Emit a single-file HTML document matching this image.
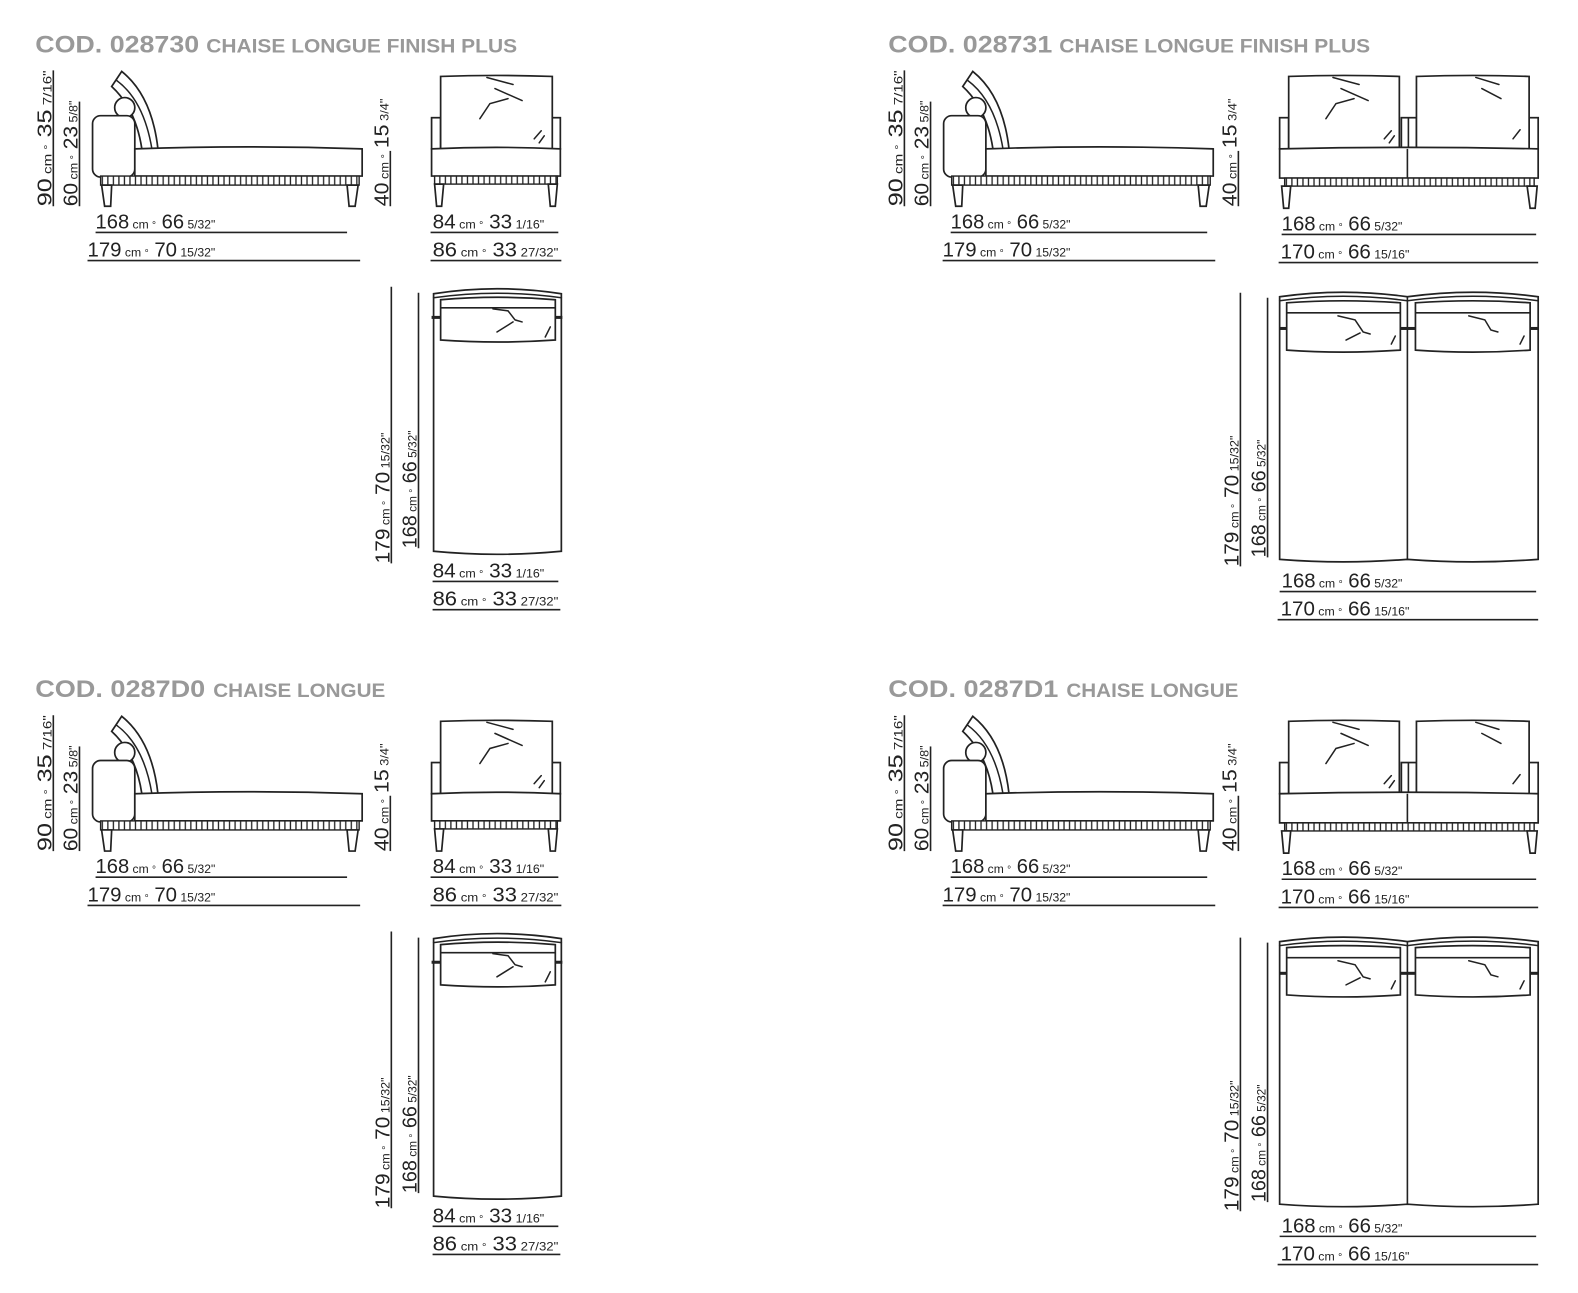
<!DOCTYPE html>
<html><head><meta charset="utf-8"><style>
html,body{margin:0;padding:0;background:#fff;}
svg{display:block;}
.t1{font-family:"Liberation Sans",sans-serif;font-weight:bold;font-size:24px;fill:#999;}
.t2{font-family:"Liberation Sans",sans-serif;font-weight:bold;font-size:19px;fill:#999;}
.d{font-family:"Liberation Sans",sans-serif;fill:#222;}
.b{font-size:20px;}
.s{font-size:12px;}
.o{font-size:10px;}
.ln{stroke:#222;stroke-width:1.6;fill:none;}
.sh{stroke:#222;stroke-width:1.7;fill:#fff;}
.sk{stroke:#222;stroke-width:1.5;fill:none;stroke-linecap:round;}
</style></head><body>
<svg width="1578" height="1293" viewBox="0 0 1578 1293" xmlns="http://www.w3.org/2000/svg">
<defs>
<pattern id="sl" width="5.5" height="9" patternUnits="userSpaceOnUse"><rect width="5.5" height="9" fill="#fff"/><line x1="2.7" y1="0" x2="2.7" y2="9" stroke="#222" stroke-width="1.3"/></pattern>
</defs>
<g transform="scale(1.006)">

<g id="q1">
<text class="t1" x="35" y="52" textLength="163" lengthAdjust="spacingAndGlyphs">COD. 028730</text>
<text class="t2" x="205" y="52" textLength="309" lengthAdjust="spacingAndGlyphs">CHAISE LONGUE FINISH PLUS</text>
</g>
<g id="sideL">
<line class="ln" x1="53" y1="70" x2="53" y2="205"/>
<line class="ln" x1="79" y1="101" x2="79" y2="205"/>
<text class="d" transform="translate(51,205) rotate(-90)" textLength="135" lengthAdjust="spacingAndGlyphs"><tspan class="b">90</tspan><tspan class="s"> cm </tspan><tspan class="o">°</tspan><tspan class="b"> 35</tspan><tspan class="s"> 7/16"</tspan></text>
<text class="d" transform="translate(77,205) rotate(-90)" textLength="105" lengthAdjust="spacingAndGlyphs"><tspan class="b">60</tspan><tspan class="s"> cm </tspan><tspan class="o">°</tspan><tspan class="b"> 23</tspan><tspan class="s"> 5/8"</tspan></text>
<path class="sh" d="M111,86 L121,71 Q151,95 157,148 L141,148 Q135,108 111,86 Z"/>
<path class="sk" d="M116,80 Q143,100 151,148"/>
<circle class="sh" cx="124" cy="107" r="10"/>
<rect class="sh" x="92" y="115" width="42" height="61" rx="8"/>
<path class="sh" d="M134,148 Q247,144 360,148 L360,175 L134,175 Z"/>
<rect x="100" y="175" width="257" height="9" fill="url(#sl)" stroke="#222" stroke-width="1.4"/>
<path class="sh" d="M101,184 L104,205 L110,205 L111,184 Z"/>
<path class="sh" d="M345,184 L347,205 L353,205 L356,184 Z"/>
<line class="ln" x1="95" y1="231" x2="345" y2="231"/>
<line class="ln" x1="87" y1="259" x2="358" y2="259"/>
<text class="d" x="95" y="227" textLength="119" lengthAdjust="spacingAndGlyphs"><tspan class="b">168</tspan><tspan class="s"> cm </tspan><tspan class="o">°</tspan><tspan class="b"> 66</tspan><tspan class="s"> 5/32"</tspan></text>
<text class="d" x="87" y="255" textLength="127" lengthAdjust="spacingAndGlyphs"><tspan class="b">179</tspan><tspan class="s"> cm </tspan><tspan class="o">°</tspan><tspan class="b"> 70</tspan><tspan class="s"> 15/32"</tspan></text>
<line class="ln" x1="388" y1="150" x2="388" y2="205"/>
<text class="d" transform="translate(386,205) rotate(-90)" textLength="107" lengthAdjust="spacingAndGlyphs"><tspan class="b">40</tspan><tspan class="s"> cm </tspan><tspan class="o">°</tspan><tspan class="b"> 15</tspan><tspan class="s"> 3/4"</tspan></text>
<rect class="sh" x="429" y="117" width="9" height="31"/>
<rect class="sh" x="548" y="117" width="9" height="31"/>
<path class="sh" d="M438,76 Q493,74 549,76 L549,148 L438,148 Z"/>
<path class="sk" d="M484,77 L510,84 M492,88 L519,100 M505,98 L487,103 L477,118 M538,130 L531,138 M541,135 L536,142"/>
<path class="sh" d="M429,148 Q493,145 557,148 L557,175 L429,175 Z"/>
<rect x="432" y="175" width="122" height="8" fill="url(#sl)" stroke="#222" stroke-width="1.4"/>
<path class="sh" d="M432,183 L434,205 L439,205 L441,183 Z"/>
<path class="sh" d="M545,183 L547,205 L552,205 L554,183 Z"/>
<line class="ln" x1="428" y1="231" x2="555" y2="231"/>
<line class="ln" x1="428" y1="259" x2="558" y2="259"/>
<text class="d" x="430" y="227" textLength="111" lengthAdjust="spacingAndGlyphs"><tspan class="b">84</tspan><tspan class="s"> cm </tspan><tspan class="o">°</tspan><tspan class="b"> 33</tspan><tspan class="s"> 1/16"</tspan></text>
<text class="d" x="430" y="255" textLength="125" lengthAdjust="spacingAndGlyphs"><tspan class="b">86</tspan><tspan class="s"> cm </tspan><tspan class="o">°</tspan><tspan class="b"> 33</tspan><tspan class="s"> 27/32"</tspan></text>
<line class="ln" x1="389" y1="285" x2="389" y2="560"/>
<line class="ln" x1="416" y1="291" x2="416" y2="545"/>
<text class="d" transform="translate(387,560) rotate(-90)" textLength="130" lengthAdjust="spacingAndGlyphs"><tspan class="b">179</tspan><tspan class="s"> cm </tspan><tspan class="o">°</tspan><tspan class="b"> 70</tspan><tspan class="s"> 15/32"</tspan></text>
<text class="d" transform="translate(414,545) rotate(-90)" textLength="117" lengthAdjust="spacingAndGlyphs"><tspan class="b">168</tspan><tspan class="s"> cm </tspan><tspan class="o">°</tspan><tspan class="b"> 66</tspan><tspan class="s"> 5/32"</tspan></text>
<path class="sh" d="M431,292 Q494,282 558,292 L558,548 Q494,554 431,548 Z"/>
<path class="sk" d="M431,296 Q494,287 558,296"/>
<path class="sh" d="M438,298 Q495,293 552,298 L552,338 Q495,342 438,338 Z"/>
<line class="ln" x1="438" y1="306" x2="552" y2="306"/>
<rect x="429" y="314" width="9" height="3" fill="#222"/>
<rect x="552" y="314" width="7" height="3" fill="#222"/>
<path class="sk" d="M490,307 L505,309 L512,318 L519,320 M510,320 L494,330 M547,325 L542,335"/>
<line class="ln" x1="430" y1="578" x2="555" y2="578"/>
<line class="ln" x1="430" y1="606" x2="557" y2="606"/>
<text class="d" x="430" y="574" textLength="111" lengthAdjust="spacingAndGlyphs"><tspan class="b">84</tspan><tspan class="s"> cm </tspan><tspan class="o">°</tspan><tspan class="b"> 33</tspan><tspan class="s"> 1/16"</tspan></text>
<text class="d" x="430" y="602" textLength="125" lengthAdjust="spacingAndGlyphs"><tspan class="b">86</tspan><tspan class="s"> cm </tspan><tspan class="o">°</tspan><tspan class="b"> 33</tspan><tspan class="s"> 27/32"</tspan></text>
</g>

<text class="t1" x="883" y="52" textLength="163" lengthAdjust="spacingAndGlyphs">COD. 028731</text>
<text class="t2" x="1053" y="52" textLength="309" lengthAdjust="spacingAndGlyphs">CHAISE LONGUE FINISH PLUS</text>
<g id="sideR">
<g transform="translate(846,0)">
<line class="ln" x1="53" y1="70" x2="53" y2="205"/>
<line class="ln" x1="79" y1="101" x2="79" y2="205"/>
<text class="d" transform="translate(51,205) rotate(-90)" textLength="135" lengthAdjust="spacingAndGlyphs"><tspan class="b">90</tspan><tspan class="s"> cm </tspan><tspan class="o">°</tspan><tspan class="b"> 35</tspan><tspan class="s"> 7/16"</tspan></text>
<text class="d" transform="translate(77,205) rotate(-90)" textLength="105" lengthAdjust="spacingAndGlyphs"><tspan class="b">60</tspan><tspan class="s"> cm </tspan><tspan class="o">°</tspan><tspan class="b"> 23</tspan><tspan class="s"> 5/8"</tspan></text>
<path class="sh" d="M111,86 L121,71 Q151,95 157,148 L141,148 Q135,108 111,86 Z"/>
<path class="sk" d="M116,80 Q143,100 151,148"/>
<circle class="sh" cx="124" cy="107" r="10"/>
<rect class="sh" x="92" y="115" width="42" height="61" rx="8"/>
<path class="sh" d="M134,148 Q247,144 360,148 L360,175 L134,175 Z"/>
<rect x="100" y="175" width="257" height="9" fill="url(#sl)" stroke="#222" stroke-width="1.4"/>
<path class="sh" d="M101,184 L104,205 L110,205 L111,184 Z"/>
<path class="sh" d="M345,184 L347,205 L353,205 L356,184 Z"/>
<line class="ln" x1="99" y1="231" x2="354" y2="231"/>
<line class="ln" x1="91" y1="259" x2="362" y2="259"/>
<text class="d" x="99" y="227" textLength="119" lengthAdjust="spacingAndGlyphs"><tspan class="b">168</tspan><tspan class="s"> cm </tspan><tspan class="o">°</tspan><tspan class="b"> 66</tspan><tspan class="s"> 5/32"</tspan></text>
<text class="d" x="91" y="255" textLength="127" lengthAdjust="spacingAndGlyphs"><tspan class="b">179</tspan><tspan class="s"> cm </tspan><tspan class="o">°</tspan><tspan class="b"> 70</tspan><tspan class="s"> 15/32"</tspan></text>
</g>
<line class="ln" x1="1231" y1="150" x2="1231" y2="205"/>
<text class="d" transform="translate(1229,205) rotate(-90)" textLength="107" lengthAdjust="spacingAndGlyphs"><tspan class="b">40</tspan><tspan class="s"> cm </tspan><tspan class="o">°</tspan><tspan class="b"> 15</tspan><tspan class="s"> 3/4"</tspan></text>
<rect class="sh" x="1272" y="117" width="9" height="31"/>
<rect class="sh" x="1520" y="117" width="9" height="31"/>
<rect class="sh" x="1393" y="117" width="15" height="31"/>
<line class="ln" x1="1400" y1="117" x2="1400" y2="148"/>
<path class="sh" d="M1281,76 Q1336,74 1391,76 L1391,148 L1281,148 Z"/>
<path class="sh" d="M1408,76 Q1464,74 1520,76 L1520,148 L1408,148 Z"/>
<path class="sk" d="M1325,77 L1351,84 M1333,88 L1360,100 M1346,98 L1328,103 L1318,118 M1383,130 L1376,138 M1386,135 L1381,142"/>
<path class="sk" d="M1467,77 L1490,84 M1473,88 L1492,98 M1511,129 L1504,138"/>
<path class="sh" d="M1272,148 Q1400,145 1529,148 L1529,177 L1272,177 Z"/>
<line class="ln" x1="1399" y1="148" x2="1399" y2="177"/>
<rect x="1277" y="177" width="248" height="8" fill="url(#sl)" stroke="#222" stroke-width="1.4"/>
<path class="sh" d="M1274,185 L1276,207 L1281,207 L1283,185 Z"/>
<path class="sh" d="M1518,185 L1521,207 L1526,207 L1528,185 Z"/>
<line class="ln" x1="1274" y1="233" x2="1527" y2="233"/>
<line class="ln" x1="1271" y1="261" x2="1529" y2="261"/>
<text class="d" x="1274" y="229" textLength="120" lengthAdjust="spacingAndGlyphs"><tspan class="b">168</tspan><tspan class="s"> cm </tspan><tspan class="o">°</tspan><tspan class="b"> 66</tspan><tspan class="s"> 5/32"</tspan></text>
<text class="d" x="1273" y="257" textLength="128" lengthAdjust="spacingAndGlyphs"><tspan class="b">170</tspan><tspan class="s"> cm </tspan><tspan class="o">°</tspan><tspan class="b"> 66</tspan><tspan class="s"> 15/16"</tspan></text>
<line class="ln" x1="1233" y1="291" x2="1233" y2="563"/>
<line class="ln" x1="1260" y1="296" x2="1260" y2="554"/>
<text class="d" transform="translate(1231,563) rotate(-90)" textLength="130" lengthAdjust="spacingAndGlyphs"><tspan class="b">179</tspan><tspan class="s"> cm </tspan><tspan class="o">°</tspan><tspan class="b"> 70</tspan><tspan class="s"> 15/32"</tspan></text>
<text class="d" transform="translate(1258,554) rotate(-90)" textLength="117" lengthAdjust="spacingAndGlyphs"><tspan class="b">168</tspan><tspan class="s"> cm </tspan><tspan class="o">°</tspan><tspan class="b"> 66</tspan><tspan class="s"> 5/32"</tspan></text>
<path class="sh" d="M1272,295 Q1335,286 1399,295 Q1464,286 1529,295 L1529,556 Q1464,561 1399,556 Q1335,561 1272,556 Z"/>
<path class="sk" d="M1272,299 Q1335,290 1399,299 Q1464,290 1529,299"/>
<line class="ln" x1="1399" y1="295" x2="1399" y2="556"/>
<path class="sh" d="M1279,301 Q1335,297 1392,301 L1392,348 Q1335,352 1279,348 Z"/>
<path class="sh" d="M1407,301 Q1464,297 1521,301 L1521,348 Q1464,352 1407,348 Z"/>
<line class="ln" x1="1279" y1="311" x2="1392" y2="311"/>
<line class="ln" x1="1407" y1="311" x2="1521" y2="311"/>
<rect x="1272" y="325" width="7" height="3" fill="#222"/>
<rect x="1392" y="325" width="15" height="3" fill="#222"/>
<rect x="1521" y="325" width="8" height="3" fill="#222"/>
<path class="sk" d="M1330,314 L1347,318 L1355,330 L1362,332 M1352,331 L1338,338 M1387,334 L1383,342"/>
<path class="sk" d="M1460,314 L1476,318 L1482,328 L1489,330 M1515,334 L1511,342"/>
<line class="ln" x1="1272" y1="588" x2="1527" y2="588"/>
<line class="ln" x1="1270" y1="616" x2="1529" y2="616"/>
<text class="d" x="1274" y="584" textLength="120" lengthAdjust="spacingAndGlyphs"><tspan class="b">168</tspan><tspan class="s"> cm </tspan><tspan class="o">°</tspan><tspan class="b"> 66</tspan><tspan class="s"> 5/32"</tspan></text>
<text class="d" x="1273" y="612" textLength="128" lengthAdjust="spacingAndGlyphs"><tspan class="b">170</tspan><tspan class="s"> cm </tspan><tspan class="o">°</tspan><tspan class="b"> 66</tspan><tspan class="s"> 15/16"</tspan></text>
</g>

<text class="t1" x="35" y="693" textLength="169" lengthAdjust="spacingAndGlyphs">COD. 0287D0</text>
<text class="t2" x="212" y="693" textLength="171" lengthAdjust="spacingAndGlyphs">CHAISE LONGUE</text>
<text class="t1" x="883" y="693" textLength="169" lengthAdjust="spacingAndGlyphs">COD. 0287D1</text>
<text class="t2" x="1060" y="693" textLength="171" lengthAdjust="spacingAndGlyphs">CHAISE LONGUE</text>

<g transform="translate(0,641)">
<line class="ln" x1="53" y1="70" x2="53" y2="205"/>
<line class="ln" x1="79" y1="101" x2="79" y2="205"/>
<text class="d" transform="translate(51,205) rotate(-90)" textLength="135" lengthAdjust="spacingAndGlyphs"><tspan class="b">90</tspan><tspan class="s"> cm </tspan><tspan class="o">°</tspan><tspan class="b"> 35</tspan><tspan class="s"> 7/16"</tspan></text>
<text class="d" transform="translate(77,205) rotate(-90)" textLength="105" lengthAdjust="spacingAndGlyphs"><tspan class="b">60</tspan><tspan class="s"> cm </tspan><tspan class="o">°</tspan><tspan class="b"> 23</tspan><tspan class="s"> 5/8"</tspan></text>
<path class="sh" d="M111,86 L121,71 Q151,95 157,148 L141,148 Q135,108 111,86 Z"/>
<path class="sk" d="M116,80 Q143,100 151,148"/>
<circle class="sh" cx="124" cy="107" r="10"/>
<rect class="sh" x="92" y="115" width="42" height="61" rx="8"/>
<path class="sh" d="M134,148 Q247,144 360,148 L360,175 L134,175 Z"/>
<rect x="100" y="175" width="257" height="9" fill="url(#sl)" stroke="#222" stroke-width="1.4"/>
<path class="sh" d="M101,184 L104,205 L110,205 L111,184 Z"/>
<path class="sh" d="M345,184 L347,205 L353,205 L356,184 Z"/>
<line class="ln" x1="95" y1="231" x2="345" y2="231"/>
<line class="ln" x1="87" y1="259" x2="358" y2="259"/>
<text class="d" x="95" y="227" textLength="119" lengthAdjust="spacingAndGlyphs"><tspan class="b">168</tspan><tspan class="s"> cm </tspan><tspan class="o">°</tspan><tspan class="b"> 66</tspan><tspan class="s"> 5/32"</tspan></text>
<text class="d" x="87" y="255" textLength="127" lengthAdjust="spacingAndGlyphs"><tspan class="b">179</tspan><tspan class="s"> cm </tspan><tspan class="o">°</tspan><tspan class="b"> 70</tspan><tspan class="s"> 15/32"</tspan></text>
<line class="ln" x1="388" y1="150" x2="388" y2="205"/>
<text class="d" transform="translate(386,205) rotate(-90)" textLength="107" lengthAdjust="spacingAndGlyphs"><tspan class="b">40</tspan><tspan class="s"> cm </tspan><tspan class="o">°</tspan><tspan class="b"> 15</tspan><tspan class="s"> 3/4"</tspan></text>
<rect class="sh" x="429" y="117" width="9" height="31"/>
<rect class="sh" x="548" y="117" width="9" height="31"/>
<path class="sh" d="M438,76 Q493,74 549,76 L549,148 L438,148 Z"/>
<path class="sk" d="M484,77 L510,84 M492,88 L519,100 M505,98 L487,103 L477,118 M538,130 L531,138 M541,135 L536,142"/>
<path class="sh" d="M429,148 Q493,145 557,148 L557,175 L429,175 Z"/>
<rect x="432" y="175" width="122" height="8" fill="url(#sl)" stroke="#222" stroke-width="1.4"/>
<path class="sh" d="M432,183 L434,205 L439,205 L441,183 Z"/>
<path class="sh" d="M545,183 L547,205 L552,205 L554,183 Z"/>
<line class="ln" x1="428" y1="231" x2="555" y2="231"/>
<line class="ln" x1="428" y1="259" x2="558" y2="259"/>
<text class="d" x="430" y="227" textLength="111" lengthAdjust="spacingAndGlyphs"><tspan class="b">84</tspan><tspan class="s"> cm </tspan><tspan class="o">°</tspan><tspan class="b"> 33</tspan><tspan class="s"> 1/16"</tspan></text>
<text class="d" x="430" y="255" textLength="125" lengthAdjust="spacingAndGlyphs"><tspan class="b">86</tspan><tspan class="s"> cm </tspan><tspan class="o">°</tspan><tspan class="b"> 33</tspan><tspan class="s"> 27/32"</tspan></text>
<line class="ln" x1="389" y1="285" x2="389" y2="560"/>
<line class="ln" x1="416" y1="291" x2="416" y2="545"/>
<text class="d" transform="translate(387,560) rotate(-90)" textLength="130" lengthAdjust="spacingAndGlyphs"><tspan class="b">179</tspan><tspan class="s"> cm </tspan><tspan class="o">°</tspan><tspan class="b"> 70</tspan><tspan class="s"> 15/32"</tspan></text>
<text class="d" transform="translate(414,545) rotate(-90)" textLength="117" lengthAdjust="spacingAndGlyphs"><tspan class="b">168</tspan><tspan class="s"> cm </tspan><tspan class="o">°</tspan><tspan class="b"> 66</tspan><tspan class="s"> 5/32"</tspan></text>
<path class="sh" d="M431,292 Q494,282 558,292 L558,548 Q494,554 431,548 Z"/>
<path class="sk" d="M431,296 Q494,287 558,296"/>
<path class="sh" d="M438,298 Q495,293 552,298 L552,338 Q495,342 438,338 Z"/>
<line class="ln" x1="438" y1="306" x2="552" y2="306"/>
<rect x="429" y="314" width="9" height="3" fill="#222"/>
<rect x="552" y="314" width="7" height="3" fill="#222"/>
<path class="sk" d="M490,307 L505,309 L512,318 L519,320 M510,320 L494,330 M547,325 L542,335"/>
<line class="ln" x1="430" y1="578" x2="555" y2="578"/>
<line class="ln" x1="430" y1="606" x2="557" y2="606"/>
<text class="d" x="430" y="574" textLength="111" lengthAdjust="spacingAndGlyphs"><tspan class="b">84</tspan><tspan class="s"> cm </tspan><tspan class="o">°</tspan><tspan class="b"> 33</tspan><tspan class="s"> 1/16"</tspan></text>
<text class="d" x="430" y="602" textLength="125" lengthAdjust="spacingAndGlyphs"><tspan class="b">86</tspan><tspan class="s"> cm </tspan><tspan class="o">°</tspan><tspan class="b"> 33</tspan><tspan class="s"> 27/32"</tspan></text>
</g>

<g transform="translate(0,641)">
<g transform="translate(846,0)">
<line class="ln" x1="53" y1="70" x2="53" y2="205"/>
<line class="ln" x1="79" y1="101" x2="79" y2="205"/>
<text class="d" transform="translate(51,205) rotate(-90)" textLength="135" lengthAdjust="spacingAndGlyphs"><tspan class="b">90</tspan><tspan class="s"> cm </tspan><tspan class="o">°</tspan><tspan class="b"> 35</tspan><tspan class="s"> 7/16"</tspan></text>
<text class="d" transform="translate(77,205) rotate(-90)" textLength="105" lengthAdjust="spacingAndGlyphs"><tspan class="b">60</tspan><tspan class="s"> cm </tspan><tspan class="o">°</tspan><tspan class="b"> 23</tspan><tspan class="s"> 5/8"</tspan></text>
<path class="sh" d="M111,86 L121,71 Q151,95 157,148 L141,148 Q135,108 111,86 Z"/>
<path class="sk" d="M116,80 Q143,100 151,148"/>
<circle class="sh" cx="124" cy="107" r="10"/>
<rect class="sh" x="92" y="115" width="42" height="61" rx="8"/>
<path class="sh" d="M134,148 Q247,144 360,148 L360,175 L134,175 Z"/>
<rect x="100" y="175" width="257" height="9" fill="url(#sl)" stroke="#222" stroke-width="1.4"/>
<path class="sh" d="M101,184 L104,205 L110,205 L111,184 Z"/>
<path class="sh" d="M345,184 L347,205 L353,205 L356,184 Z"/>
<line class="ln" x1="99" y1="231" x2="354" y2="231"/>
<line class="ln" x1="91" y1="259" x2="362" y2="259"/>
<text class="d" x="99" y="227" textLength="119" lengthAdjust="spacingAndGlyphs"><tspan class="b">168</tspan><tspan class="s"> cm </tspan><tspan class="o">°</tspan><tspan class="b"> 66</tspan><tspan class="s"> 5/32"</tspan></text>
<text class="d" x="91" y="255" textLength="127" lengthAdjust="spacingAndGlyphs"><tspan class="b">179</tspan><tspan class="s"> cm </tspan><tspan class="o">°</tspan><tspan class="b"> 70</tspan><tspan class="s"> 15/32"</tspan></text>
</g>
<line class="ln" x1="1231" y1="150" x2="1231" y2="205"/>
<text class="d" transform="translate(1229,205) rotate(-90)" textLength="107" lengthAdjust="spacingAndGlyphs"><tspan class="b">40</tspan><tspan class="s"> cm </tspan><tspan class="o">°</tspan><tspan class="b"> 15</tspan><tspan class="s"> 3/4"</tspan></text>
<rect class="sh" x="1272" y="117" width="9" height="31"/>
<rect class="sh" x="1520" y="117" width="9" height="31"/>
<rect class="sh" x="1393" y="117" width="15" height="31"/>
<line class="ln" x1="1400" y1="117" x2="1400" y2="148"/>
<path class="sh" d="M1281,76 Q1336,74 1391,76 L1391,148 L1281,148 Z"/>
<path class="sh" d="M1408,76 Q1464,74 1520,76 L1520,148 L1408,148 Z"/>
<path class="sk" d="M1325,77 L1351,84 M1333,88 L1360,100 M1346,98 L1328,103 L1318,118 M1383,130 L1376,138 M1386,135 L1381,142"/>
<path class="sk" d="M1467,77 L1490,84 M1473,88 L1492,98 M1511,129 L1504,138"/>
<path class="sh" d="M1272,148 Q1400,145 1529,148 L1529,177 L1272,177 Z"/>
<line class="ln" x1="1399" y1="148" x2="1399" y2="177"/>
<rect x="1277" y="177" width="248" height="8" fill="url(#sl)" stroke="#222" stroke-width="1.4"/>
<path class="sh" d="M1274,185 L1276,207 L1281,207 L1283,185 Z"/>
<path class="sh" d="M1518,185 L1521,207 L1526,207 L1528,185 Z"/>
<line class="ln" x1="1274" y1="233" x2="1527" y2="233"/>
<line class="ln" x1="1271" y1="261" x2="1529" y2="261"/>
<text class="d" x="1274" y="229" textLength="120" lengthAdjust="spacingAndGlyphs"><tspan class="b">168</tspan><tspan class="s"> cm </tspan><tspan class="o">°</tspan><tspan class="b"> 66</tspan><tspan class="s"> 5/32"</tspan></text>
<text class="d" x="1273" y="257" textLength="128" lengthAdjust="spacingAndGlyphs"><tspan class="b">170</tspan><tspan class="s"> cm </tspan><tspan class="o">°</tspan><tspan class="b"> 66</tspan><tspan class="s"> 15/16"</tspan></text>
<line class="ln" x1="1233" y1="291" x2="1233" y2="563"/>
<line class="ln" x1="1260" y1="296" x2="1260" y2="554"/>
<text class="d" transform="translate(1231,563) rotate(-90)" textLength="130" lengthAdjust="spacingAndGlyphs"><tspan class="b">179</tspan><tspan class="s"> cm </tspan><tspan class="o">°</tspan><tspan class="b"> 70</tspan><tspan class="s"> 15/32"</tspan></text>
<text class="d" transform="translate(1258,554) rotate(-90)" textLength="117" lengthAdjust="spacingAndGlyphs"><tspan class="b">168</tspan><tspan class="s"> cm </tspan><tspan class="o">°</tspan><tspan class="b"> 66</tspan><tspan class="s"> 5/32"</tspan></text>
<path class="sh" d="M1272,295 Q1335,286 1399,295 Q1464,286 1529,295 L1529,556 Q1464,561 1399,556 Q1335,561 1272,556 Z"/>
<path class="sk" d="M1272,299 Q1335,290 1399,299 Q1464,290 1529,299"/>
<line class="ln" x1="1399" y1="295" x2="1399" y2="556"/>
<path class="sh" d="M1279,301 Q1335,297 1392,301 L1392,348 Q1335,352 1279,348 Z"/>
<path class="sh" d="M1407,301 Q1464,297 1521,301 L1521,348 Q1464,352 1407,348 Z"/>
<line class="ln" x1="1279" y1="311" x2="1392" y2="311"/>
<line class="ln" x1="1407" y1="311" x2="1521" y2="311"/>
<rect x="1272" y="325" width="7" height="3" fill="#222"/>
<rect x="1392" y="325" width="15" height="3" fill="#222"/>
<rect x="1521" y="325" width="8" height="3" fill="#222"/>
<path class="sk" d="M1330,314 L1347,318 L1355,330 L1362,332 M1352,331 L1338,338 M1387,334 L1383,342"/>
<path class="sk" d="M1460,314 L1476,318 L1482,328 L1489,330 M1515,334 L1511,342"/>
<line class="ln" x1="1272" y1="588" x2="1527" y2="588"/>
<line class="ln" x1="1270" y1="616" x2="1529" y2="616"/>
<text class="d" x="1274" y="584" textLength="120" lengthAdjust="spacingAndGlyphs"><tspan class="b">168</tspan><tspan class="s"> cm </tspan><tspan class="o">°</tspan><tspan class="b"> 66</tspan><tspan class="s"> 5/32"</tspan></text>
<text class="d" x="1273" y="612" textLength="128" lengthAdjust="spacingAndGlyphs"><tspan class="b">170</tspan><tspan class="s"> cm </tspan><tspan class="o">°</tspan><tspan class="b"> 66</tspan><tspan class="s"> 15/16"</tspan></text>
</g>

</g>
</svg>
</body></html>
